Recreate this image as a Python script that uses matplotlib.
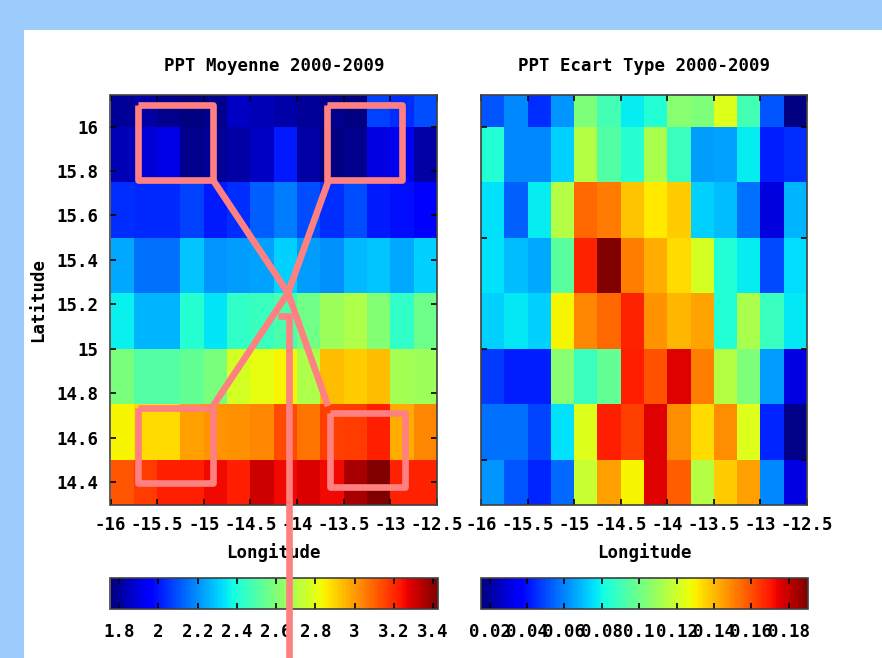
import numpy as np
import matplotlib
matplotlib.use("Agg")
import matplotlib.pyplot as plt
from matplotlib.lines import Line2D
from matplotlib.patches import Rectangle
from matplotlib.ticker import FixedLocator, FuncFormatter

plt.rcParams['font.family'] = 'DejaVu Sans Mono'
plt.rcParams['font.weight'] = 'bold'
plt.rcParams['axes.unicode_minus'] = False

# grid (cell edges, 0.25 degree)
lon_edges = np.arange(-16.0, -12.49, 0.25)
lat_edges = np.arange(14.25, 16.26, 0.25)

# mean precipitation, rows from north (top) to south (bottom)
moyenne = np.array([
    [1.79, 1.81, 1.78, 1.76, 1.78, 1.86, 1.84, 1.82, 1.79, 1.78, 1.76, 2.07, 2.04, 2.09],
    [1.84, 1.88, 1.91, 1.78, 1.79, 1.81, 1.86, 2.01, 1.81, 1.756, 1.78, 1.90, 1.92, 1.81],
    [2.04, 2.03, 2.03, 2.07, 2.01, 2.04, 2.12, 2.17, 2.09, 2.04, 2.09, 2.01, 1.99, 1.94],
    [2.24, 2.15, 2.15, 2.29, 2.21, 2.22, 2.23, 2.31, 2.22, 2.20, 2.27, 2.29, 2.24, 2.31],
    [2.36, 2.26, 2.26, 2.42, 2.34, 2.44, 2.46, 2.49, 2.57, 2.66, 2.69, 2.61, 2.44, 2.56],
    [2.59, 2.51, 2.51, 2.54, 2.59, 2.77, 2.81, 2.84, 2.69, 2.94, 2.91, 2.94, 2.67, 2.66],
    [2.84, 2.89, 2.89, 2.99, 3.01, 3.02, 3.04, 3.14, 3.07, 3.16, 3.17, 3.22, 2.97, 3.04],
    [3.12, 3.17, 3.22, 3.22, 3.26, 3.22, 3.31, 3.26, 3.29, 3.26, 3.36, 3.425, 3.21, 3.21],
])

# standard deviation, same layout
ecart = np.array([
    [0.052, 0.061, 0.045, 0.063, 0.103, 0.091, 0.078, 0.084, 0.105, 0.103, 0.124, 0.091, 0.052, 0.0153],
    [0.084, 0.061, 0.061, 0.073, 0.115, 0.094, 0.085, 0.113, 0.089, 0.064, 0.065, 0.078, 0.042, 0.045],
    [0.076, 0.054, 0.078, 0.115, 0.155, 0.152, 0.138, 0.131, 0.137, 0.073, 0.070, 0.057, 0.030, 0.068],
    [0.076, 0.070, 0.066, 0.096, 0.168, 0.1904, 0.151, 0.142, 0.134, 0.122, 0.084, 0.078, 0.050, 0.075],
    [0.073, 0.077, 0.073, 0.129, 0.150, 0.155, 0.168, 0.147, 0.141, 0.144, 0.084, 0.113, 0.089, 0.077],
    [0.047, 0.042, 0.042, 0.105, 0.089, 0.098, 0.169, 0.159, 0.176, 0.151, 0.115, 0.103, 0.064, 0.031],
    [0.057, 0.057, 0.049, 0.076, 0.124, 0.169, 0.163, 0.176, 0.148, 0.134, 0.148, 0.124, 0.044, 0.017],
    [0.063, 0.052, 0.044, 0.055, 0.119, 0.145, 0.129, 0.176, 0.157, 0.115, 0.137, 0.145, 0.061, 0.031],
])

titles = ["PPT Moyenne 2000-2009", "PPT Ecart Type 2000-2009"]
cb_ticks = [np.arange(1.8, 3.41, 0.2), np.arange(0.02, 0.181, 0.02)]

W, H = 882, 658
FS = 12.5
fmt = FuncFormatter(lambda v, p: '%g' % round(v, 6))


def rect(x0, y0, x1, y1):
    # pixel box (top-left origin) -> figure fraction
    return [x0 / W, 1 - y1 / H, (x1 - x0) / W, (y1 - y0) / H]


fig = plt.figure(figsize=(W / 100, H / 100), dpi=100, facecolor='#9dcdfd')
fig.patches.append(Rectangle((24 / W, 0), 1, 1 - 29.5 / H, transform=fig.transFigure,
                             facecolor='white', edgecolor='none', zorder=-10))

ax_x = [(110.5, 437), (481, 807)]
for i, data in enumerate([moyenne, ecart]):
    x0, x1 = ax_x[i]
    ax = fig.add_axes(rect(x0, 94.5, x1, 504.5))
    m = ax.pcolormesh(lon_edges, lat_edges, np.flipud(data), cmap='jet')
    ax.set_xlim(-16, -12.5)
    ax.set_ylim(14.3, 16.144)
    ax.xaxis.set_major_locator(FixedLocator(np.arange(-16, -12.49, 0.5)))
    ax.xaxis.set_major_formatter(fmt)
    if i == 0:
        ax.yaxis.set_major_locator(FixedLocator(np.arange(14.4, 16.01, 0.2)))
        ax.yaxis.set_major_formatter(fmt)
    else:
        ax.yaxis.set_major_locator(FixedLocator(np.arange(14.5, 16.01, 0.5)))
        ax.set_yticklabels([])
    ax.tick_params(direction='in', top=True, right=True, length=4, width=1.2,
                   labelsize=FS, color='black')
    ax.tick_params(axis='x', pad=8.5)
    ax.tick_params(axis='y', pad=8.5)
    for s in ax.spines.values():
        s.set_color('#404040')
        s.set_linewidth(1.2)
    cx = (x0 + x1) / 2
    fig.text(cx / W, 1 - 66 / H, titles[i], ha='center', va='center', fontsize=FS)
    fig.text(cx / W, 1 - 553 / H, "Longitude", ha='center', va='center', fontsize=FS)

    cax = fig.add_axes(rect(x0, 578, x1 + 1, 609))
    cb = fig.colorbar(m, cax=cax, orientation='horizontal', ticks=cb_ticks[i])
    cb.ax.xaxis.set_major_formatter(fmt)
    cb.ax.tick_params(direction='in', top=True, bottom=True, length=4.5, width=1.2,
                      labelsize=FS, pad=10, color='black')
    cb.outline.set_edgecolor('#404040')
    cb.outline.set_linewidth(1.2)

fig.text(38 / W, 1 - 300 / H, "Latitude", rotation=90, ha='center', va='center', fontsize=FS)

# pink overlay: four boxes linked to a hub with a pointer going down
pink = dict(color='#ff8080', linewidth=4.8, solid_joinstyle='round',
            solid_capstyle='butt', transform=fig.transFigure, zorder=20)
boxes = [(138, 105, 213, 180), (327, 105, 402, 180), (138, 408, 213, 483), (330, 413, 405, 487)]
for bx0, by0, bx1, by1 in boxes:
    xs = np.array([bx0, bx1, bx1, bx0, bx0]) / W
    ys = 1 - np.array([by0, by0, by1, by1, by0]) / H
    fig.add_artist(Line2D(xs, ys, **pink))
hub = (288, 293)
ends = [(213, 180), (328, 182), (213, 406), (328, 406)]
for ex, ey in ends:
    fig.add_artist(Line2D([hub[0] / W, ex / W], [1 - hub[1] / H, 1 - ey / H], **pink))
fig.add_artist(Line2D([278 / W, 289 / W, 289 / W], [1 - 316 / H, 1 - 316 / H, 1 - 665 / H], **pink))

fig.savefig("out.png", dpi=100, facecolor=fig.get_facecolor())
